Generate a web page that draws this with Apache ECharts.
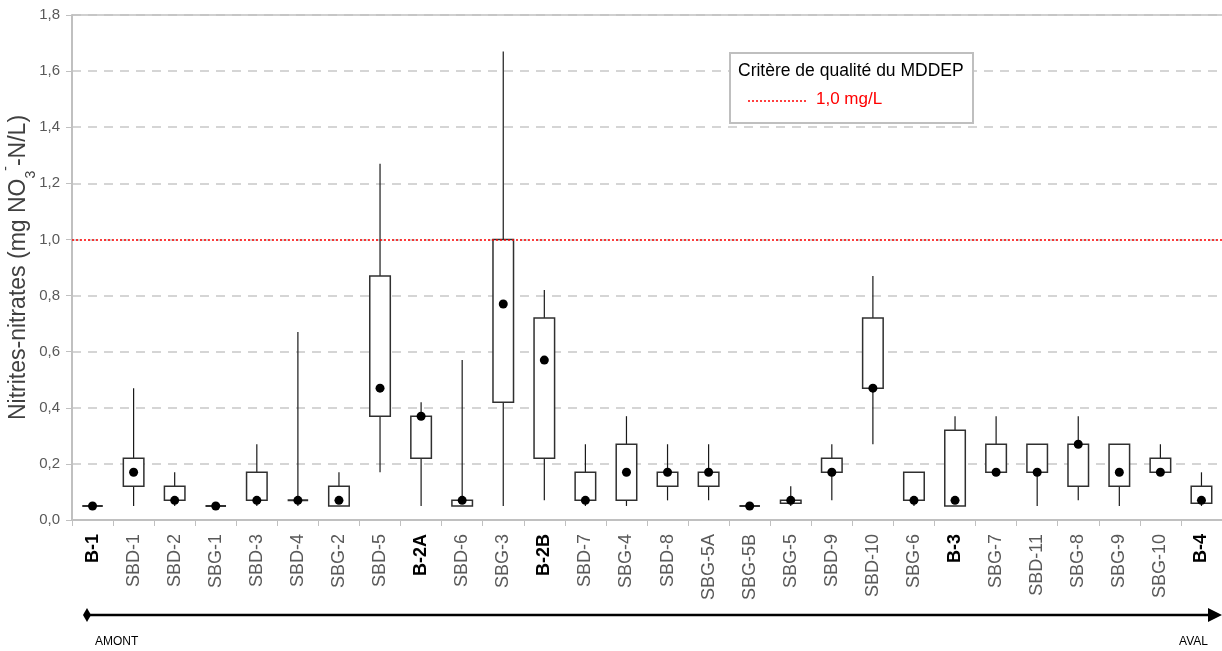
<!DOCTYPE html>
<html>
<head>
<meta charset="utf-8">
<script src="https://cdn.jsdelivr.net/npm/echarts@6/dist/echarts.min.js"></script>
<style>
  html, body { margin: 0; padding: 0; background: #ffffff; }
  #chart { width: 1222px; height: 651px; }
</style>
</head>
<body>
<div id="chart"></div>
<script>
// Sampling stations, upstream (AMONT) to downstream (AVAL)
const stations = ['B-1', 'SBD-1', 'SBD-2', 'SBG-1', 'SBD-3', 'SBD-4', 'SBG-2', 'SBD-5', 'B-2A', 'SBD-6',
  'SBG-3', 'B-2B', 'SBD-7', 'SBG-4', 'SBD-8', 'SBG-5A', 'SBG-5B', 'SBG-5', 'SBD-9', 'SBD-10',
  'SBG-6', 'B-3', 'SBG-7', 'SBD-11', 'SBG-8', 'SBG-9', 'SBG-10', 'B-4'];
// Main stations drawn in bold
const mainStations = ['B-1', 'B-2A', 'B-2B', 'B-3', 'B-4'];

// Nitrites-nitrates (mg NO3- -N/L): minimum, box bottom, box top, maximum, central dot
const minValues = [0.05, 0.05, 0.05, 0.05, 0.05, 0.05, 0.05, 0.17, 0.05, 0.05,
  0.05, 0.07, 0.05, 0.05, 0.07, 0.07, 0.05, 0.05, 0.07, 0.27,
  0.05, 0.05, 0.17, 0.05, 0.07, 0.05, 0.17, 0.05];
const lowerValues = [0.05, 0.12, 0.07, 0.05, 0.07, 0.07, 0.05, 0.37, 0.22, 0.05,
  0.42, 0.22, 0.07, 0.07, 0.12, 0.12, 0.05, 0.06, 0.17, 0.47,
  0.07, 0.05, 0.17, 0.17, 0.12, 0.12, 0.17, 0.06];
const upperValues = [0.05, 0.22, 0.12, 0.05, 0.17, 0.07, 0.12, 0.87, 0.37, 0.07,
  1.00, 0.72, 0.17, 0.27, 0.17, 0.17, 0.05, 0.07, 0.22, 0.72,
  0.17, 0.32, 0.27, 0.27, 0.27, 0.27, 0.22, 0.12];
const maxValues = [0.05, 0.47, 0.17, 0.05, 0.27, 0.67, 0.17, 1.27, 0.42, 0.57,
  1.67, 0.82, 0.27, 0.37, 0.27, 0.27, 0.05, 0.12, 0.27, 0.87,
  0.17, 0.37, 0.37, 0.27, 0.37, 0.27, 0.27, 0.17];
const dotValues = [0.05, 0.17, 0.07, 0.05, 0.07, 0.07, 0.07, 0.47, 0.37, 0.07,
  0.77, 0.57, 0.07, 0.17, 0.17, 0.17, 0.05, 0.07, 0.17, 0.47,
  0.07, 0.07, 0.17, 0.17, 0.27, 0.17, 0.17, 0.07];

// Quality criterion
const criterionValue = 1.0;
const criterionTitle = 'Critère de qualité du MDDEP';
const criterionLabel = '1,0 mg/L';
const yMin = 0, yMax = 1.8, yStep = 0.2;
const yAxisTitle = '{t|Nitrites-nitrates (mg NO}{s|3}{p|-}{t|-N/L)}';

const FONT = '"Liberation Sans", Arial, sans-serif';

const boxData = stations.map((s, i) => [i, minValues[i], lowerValues[i], upperValues[i], maxValues[i]]);

const chart = echarts.init(document.getElementById('chart'), null, { renderer: 'canvas' });

chart.setOption({
  animation: false,
  backgroundColor: '#ffffff',
  grid: { left: 72, right: 0, top: 15, bottom: 131, containLabel: false, outerBoundsMode: 'none' },
  xAxis: {
    type: 'category',
    data: stations,
    boundaryGap: true,
    axisLine: { show: true, lineStyle: { color: '#c0c0c0', width: 2 } },
    axisTick: { show: true, interval: 0, length: 6, lineStyle: { color: '#c0c0c0', width: 1 } },
    axisLabel: {
      interval: 0,
      rotate: 90,
      margin: 14,
      fontFamily: FONT,
      formatter: v => mainStations.includes(v) ? '{b|' + v + '}' : '{n|' + v + '}',
      rich: {
        b: { fontFamily: FONT, fontSize: 18, fontWeight: 'bold', color: '#000000' },
        n: { fontFamily: FONT, fontSize: 18, color: '#595959' }
      }
    },
    splitLine: { show: false }
  },
  yAxis: {
    type: 'value',
    min: yMin, max: yMax, interval: yStep,
    name: yAxisTitle,
    nameLocation: 'middle',
    nameRotate: 90,
    nameGap: 40,
    nameMoveOverlap: false,
    nameTextStyle: {
      fontFamily: FONT,
      rich: {
        t: { fontFamily: FONT, fontSize: 23, color: '#404040' },
        s: { fontFamily: FONT, fontSize: 14, color: '#404040', verticalAlign: 'bottom', lineHeight: 27, padding: [0, 0, -6, 0] },
        p: { fontFamily: FONT, fontSize: 14, color: '#404040', verticalAlign: 'top', lineHeight: 27, padding: [-6, 0, 0, 0] }
      }
    },
    axisLine: { show: true, lineStyle: { color: '#c0c0c0', width: 2 } },
    axisTick: { show: true, length: 6, lineStyle: { color: '#c0c0c0' } },
    axisLabel: {
      fontFamily: FONT, fontSize: 15, color: '#595959', margin: 12,
      formatter: v => v.toFixed(1).replace('.', ',')
    },
    splitLine: { show: true, lineStyle: { color: '#c8c8c8', width: 1.5, type: [9, 7] } }
  },
  series: [
    {
      type: 'custom',
      data: boxData,
      encode: { x: 0, y: [1, 2, 3, 4] },
      z: 3,
      renderItem: (params, api) => {
        const x = api.value(0);
        const pMin = api.coord([x, api.value(1)]);
        const pLow = api.coord([x, api.value(2)]);
        const pUp = api.coord([x, api.value(3)]);
        const pMax = api.coord([x, api.value(4)]);
        const half = api.size([1, 0])[0] * 0.25;
        const children = [];
        const whisker = { stroke: '#1a1a1a', lineWidth: 1.2 };
        if (pMax[1] < pUp[1] - 0.5) {
          children.push({ type: 'line', shape: { x1: pUp[0], y1: pUp[1], x2: pMax[0], y2: pMax[1] }, style: whisker });
        }
        if (pMin[1] > pLow[1] + 0.5) {
          children.push({ type: 'line', shape: { x1: pLow[0], y1: pLow[1], x2: pMin[0], y2: pMin[1] }, style: whisker });
        }
        children.push({
          type: 'rect',
          shape: { x: pUp[0] - half, y: pUp[1], width: half * 2, height: Math.max(pLow[1] - pUp[1], 0) },
          style: { fill: '#ffffff', stroke: '#303030', lineWidth: pLow[1] - pUp[1] < 1 ? 2 : 1.5 }
        });
        return { type: 'group', children };
      }
    },
    {
      type: 'scatter',
      data: dotValues,
      symbol: 'circle',
      symbolSize: 9,
      z: 5,
      itemStyle: { color: '#000000', opacity: 1 },
      markLine: {
        silent: true,
        symbol: ['none', 'none'],
        label: { show: false },
        data: [
          { yAxis: criterionValue, lineStyle: { color: '#ff0000', type: [2, 2], width: 1.5, opacity: 1 } },
          { yAxis: yMax, lineStyle: { color: '#c0c0c0', type: 'solid', width: 1.5, opacity: 1 } }
        ]
      }
    }
  ],
  graphic: [
    // criterion legend
    {
      type: 'rect', left: 729, top: 52, z: 10,
      shape: { width: 243, height: 70 },
      style: { fill: '#ffffff', stroke: '#bfbfbf', lineWidth: 2 }
    },
    {
      type: 'text', left: 738, top: 62, z: 11,
      style: { text: criterionTitle, fontFamily: FONT, fontSize: 17.5, fill: '#000000' }
    },
    {
      type: 'line', z: 11,
      shape: { x1: 748, y1: 101, x2: 806, y2: 101 },
      style: { stroke: '#ff0000', lineWidth: 1.5, lineDash: [2, 2] }
    },
    {
      type: 'text', left: 816, top: 91, z: 11,
      style: { text: criterionLabel, fontFamily: FONT, fontSize: 17, fill: '#ff0000' }
    },
    // upstream → downstream arrow
    {
      type: 'line', z: 11,
      shape: { x1: 88, y1: 615, x2: 1210, y2: 615 },
      style: { stroke: '#000000', lineWidth: 2.5 }
    },
    {
      type: 'polygon', z: 11,
      shape: { points: [[83, 615], [87, 608], [91, 615], [87, 622]] },
      style: { fill: '#000000' }
    },
    {
      type: 'polygon', z: 11,
      shape: { points: [[1208, 608], [1222, 615], [1208, 622]] },
      style: { fill: '#000000' }
    },
    {
      type: 'text', left: 95, top: 636, z: 11,
      style: { text: 'AMONT', fontFamily: FONT, fontSize: 12, fill: '#000000' }
    },
    {
      type: 'text', right: 14, top: 636, z: 11,
      style: { text: 'AVAL', fontFamily: FONT, fontSize: 12, fill: '#000000' }
    }
  ]
});
</script>
</body>
</html>
